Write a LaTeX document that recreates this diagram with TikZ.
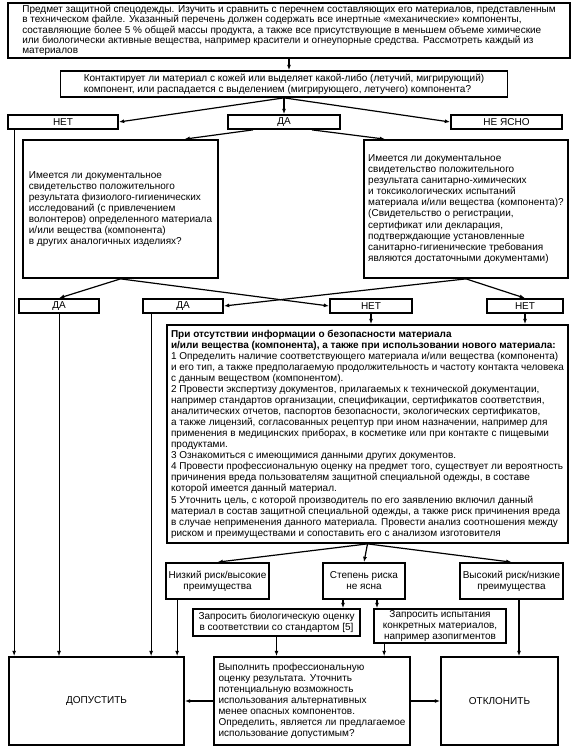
\documentclass[tikz,border=0pt]{standalone}
\usepackage{fontspec}
\setmainfont{Liberation Sans}
\usetikzlibrary{arrows.meta,calc}

\begin{document}
\begin{tikzpicture}[
  x=0.75pt,y=-0.75pt,
  font=\fontsize{7.5}{8.3}\selectfont,
  box/.style={draw,line width=1.3pt,inner sep=0pt,align=center},
  leftbox/.style={box,align=left},
  tag/.style={box,minimum height=10.5pt},
  conn/.style={-{Latex[length=4pt,width=3pt]},line width=.9pt},
  thinconn/.style={-{Latex[length=4pt,width=3pt]},line width=.6pt}
]
\useasboundingbox (0,0) rectangle (576,754);

% Object and first question
\node[leftbox,minimum width=421.5pt,minimum height=41.25pt,font=\fontsize{7.5}{7.8}\selectfont] (top) at (289,30.5)
  {Предмет защитной спецодежды. Изучить и сравнить с перечнем составляющих его материалов, представленным\\
   в техническом файле. Указанный перечень должен содержать все инертные «механические» компоненты,\\
   составляющие более 5 \% общей массы продукта, а также все присутствующие в меньшем объеме химические\\
   или биологически активные вещества, например красители и огнеупорные средства. Рассмотреть каждый из\\
   материалов};
\node[leftbox,minimum width=335.25pt,minimum height=19.5pt] (q) at (284,84)
  {Контактирует ли материал с кожей или выделяет какой-либо (летучий, мигрирующий)\\
   компонент, или распадается с выделением (мигрирующего, летучего) компонента?};

\node[tag,minimum width=82.5pt] (no1) at (63,122) {НЕТ};
\node[tag,minimum width=84pt] (yes1) at (284,122) {ДА};
\node[tag,minimum width=83.25pt] (unclear) at (506.5,122) {НЕ ЯСНО};

% Documented evidence
\node[leftbox,minimum width=146.25pt,minimum height=103.5pt] (lq) at (120.5,209)
  {Имеется ли документальное\\
   свидетельство положительного\\
   результата физиолого-гигиенических\\
   исследований (с привлечением\\
   волонтеров) определенного материала\\
   и/или вещества (компонента)\\
   в других аналогичных изделиях?};
\node[leftbox,minimum width=153pt,minimum height=103.5pt] (rq) at (466,209)
  {Имеется ли документальное\\
   свидетельство положительного\\
   результата санитарно-химических\\
   и токсикологических испытаний\\
   материала и/или вещества (компонента)?\\
   (Свидетельство о регистрации,\\
   сертификат или декларация,\\
   подтверждающие установленные\\
   санитарно-гигиенические требования\\
   являются достаточными документами)};

\node[tag,minimum width=60pt] (yes2) at (59,306) {ДА};
\node[tag,minimum width=60pt] (yes3) at (183,306) {ДА};
\node[tag,minimum width=61.5pt] (no2) at (371,306) {НЕТ};
\node[tag,minimum width=57pt] (no3) at (525,306) {НЕТ};

% Missing information
\node[leftbox,minimum width=300.75pt,minimum height=163.5pt] (info) at (367.5,434)
  {\textbf{При отсутствии информации о безопасности материала}\\
   \textbf{и/или вещества (компонента), а также при использовании нового материала:}\\
   1 Определить наличие соответствующего материала и/или вещества (компонента)\\
   и его тип, а также предполагаемую продолжительность и частоту контакта человека\\
   с данным веществом (компонентом).\\
   2 Провести экспертизу документов, прилагаемых к технической документации,\\
   например стандартов организации, спецификации, сертификатов соответствия,\\
   аналитических отчетов, паспортов безопасности, экологических сертификатов,\\
   а также лицензий, согласованных рецептур при ином назначении, например для\\
   применения в медицинских приборах, в косметике или при контакте с пищевыми\\
   продуктами.\\
   3 Ознакомиться с имеющимися данными других документов.\\
   4 Провести профессиональную оценку на предмет того, существует ли вероятность\\
   причинения вреда пользователям защитной специальной одежды, в составе\\
   которой имеется данный материал.\\
   5 Уточнить цель, с которой производитель по его заявлению включил данный\\
   материал в состав защитной специальной одежды, а также риск причинения вреда\\
   в случае неприменения данного материала. Провести анализ соотношения между\\
   риском и преимуществами и сопоставить его с анализом изготовителя};

% Risk levels
\node[box,minimum width=77.25pt,minimum height=27pt] (low) at (217.5,581)
  {Низкий риск/высокие\\преимущества};
\node[box,minimum width=61.5pt,minimum height=27pt] (risk) at (364,581)
  {Степень риска\\не ясна};
\node[box,minimum width=77.25pt,minimum height=27pt] (high) at (511.5,581)
  {Высокий риск/низкие\\преимущества};
\node[box,minimum width=125.25pt,minimum height=20.25pt] (bio) at (276.5,622.5)
  {Запросить биологическую оценку\\в соответствии со стандартом [5]};
\node[box,minimum width=99pt,minimum height=25.5pt] (tests) at (440,626)
  {Запросить испытания\\конкретных материалов,\\например азопигментов};

% Decisions
\node[box,minimum width=131.25pt,minimum height=66pt] (accept) at (96.5,701) {ДОПУСТИТЬ};
\node[leftbox,minimum width=147pt,minimum height=66pt] (eval) at (312,701)
  {Выполнить профессиональную\\
   оценку результата. Уточнить\\
   потенциальную возможность\\
   использования альтернативных\\
   менее опасных компонентов.\\
   Определить, является ли предлагаемое\\
   использование допустимым?};
\node[box,minimum width=87.75pt,minimum height=66pt] (reject) at (499.5,701) {ОТКЛОНИТЬ};

% Connectors
\draw[conn] (top.south) -- (top.south |- q.north);
\draw[conn] (q.south) -- (yes1.north);
\draw[conn] (q.south) -- (no1.east);
\draw[conn] (q.south) -- (unclear.west);
\draw[conn] ($(yes1.south)+(-31,0)$) -- ($(lq.north)+(64,0)$);
\draw[conn] ($(yes1.south)+(28,0)$) -- ($(rq.north)+(-81,0)$);
\draw[conn] (lq.south) -- (yes2.north);
\draw[conn] (lq.south) -- (no2.west);
\draw[conn] (rq.south) -- (yes3.east);
\draw[conn] (rq.south) -- (no3.north);
\draw[conn] (no2.south) -- (no2.south |- info.north);
\draw[conn] (no3.south) -- (no3.south |- info.north);

\coordinate (no1l) at ($(no1.south west)+(7,0)$);
\draw[conn] (no1l) -- (no1l |- accept.north);
\draw[thinconn] (yes2.south) -- (yes2.south |- accept.north);
\coordinate (yes3l) at ($(yes3.south west)+(9,0)$);
\draw[thinconn] (yes3l) -- (yes3l |- accept.north);

\draw[conn] (info.south) -- (low.north);
\draw[conn] (info.south) -- (risk.north);
\draw[conn] (info.south) -- (high.north);
\coordinate (lowl) at ($(low.south west)+(12,0)$);
\draw[conn] (lowl) -- (lowl |- accept.north);
\coordinate (riskl) at ($(risk.south)+(-21,0)$);
\draw[conn] (riskl) -- (riskl |- bio.north);
\coordinate (riskr) at ($(risk.south)+(13,0)$);
\draw[conn] (riskr) -- (riskr |- tests.north);
\draw[conn] (bio.south) -- (bio.south |- eval.north);
\coordinate (testsl) at ($(tests.south west)+(11,0)$);
\draw[conn] (testsl) -- (testsl |- eval.north);
\coordinate (highr) at ($(high.south)+(7.5,0)$);
\draw[conn] (highr) -- (highr |- reject.north);
\draw[conn] (eval.west) -- (accept.east);
\draw[conn] (eval.east) -- (reject.west);

\end{tikzpicture}
\end{document}
